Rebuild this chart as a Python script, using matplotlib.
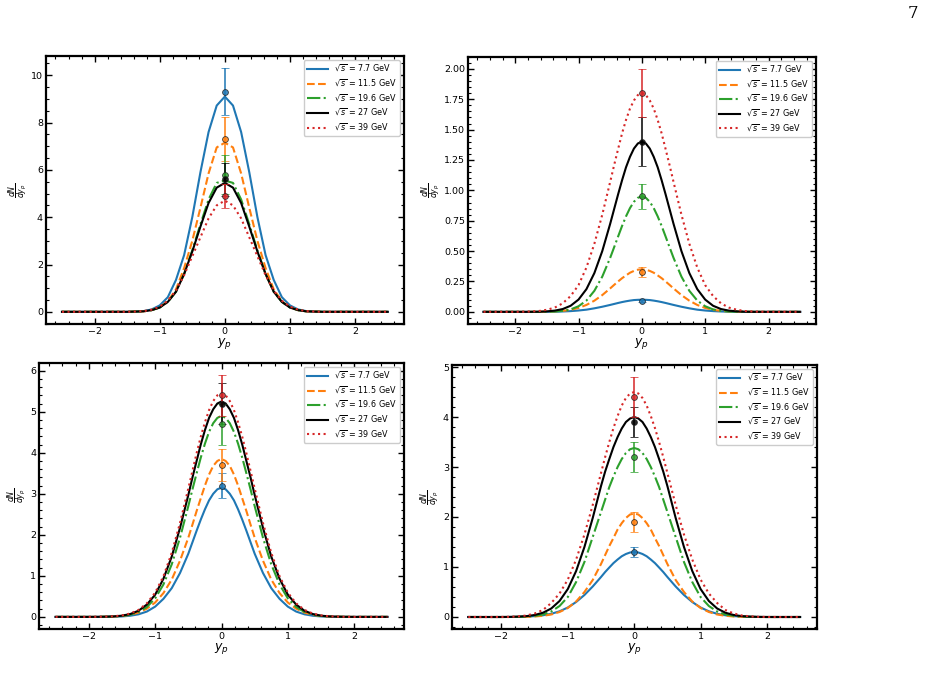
import numpy as np
import matplotlib
matplotlib.use("Agg")
import matplotlib.pyplot as plt
from matplotlib.ticker import AutoMinorLocator

# ---------------- data ----------------
# coarse rapidity grid (top-left panel)
y_grid = [-2.5, -2.375, -2.25, -2.125, -2.0, -1.875, -1.75, -1.625, -1.5, -1.375,
          -1.25, -1.125, -1.0, -0.875, -0.75, -0.625, -0.5, -0.375, -0.25, -0.125,
          0.0, 0.125, 0.25, 0.375, 0.5, 0.625, 0.75, 0.875, 1.0, 1.125,
          1.25, 1.375, 1.5, 1.625, 1.75, 1.875, 2.0, 2.125, 2.25, 2.375, 2.5]

# finer rapidity grid near mid-rapidity (other panels)
y_fine = [-2.5, -2.375, -2.25, -2.125, -2.0, -1.875, -1.75, -1.625, -1.5, -1.375,
          -1.25, -1.125, -1.0, -0.875, -0.75, -0.625,
          -0.5, -0.4375, -0.375, -0.3125, -0.25, -0.1875, -0.125, -0.0625,
          0.0,
          0.0625, 0.125, 0.1875, 0.25, 0.3125, 0.375, 0.4375, 0.5,
          0.625, 0.75, 0.875, 1.0, 1.125, 1.25, 1.375, 1.5, 1.625, 1.75,
          1.875, 2.0, 2.125, 2.25, 2.375, 2.5]

energies = ["7.7", "11.5", "19.6", "27", "39"]

# panel 1 (top left)
p1_77 = [0,0,0,0,0,0,0,0,0, 0.01,0.03,0.1,0.27,0.62,1.35,2.4,4.0,5.9,7.6,8.72, 9.1, 8.72,7.6,5.9,4.0,2.4,1.35,0.62,0.27,0.1,0.03,0.01, 0,0,0,0,0,0,0,0,0]
p1_115 = [0,0,0,0,0,0,0,0,0, 0.01,0.02,0.07,0.19,0.45,0.95,1.85,3.0,4.4,5.85,6.95, 7.15, 6.95,5.85,4.4,3.0,1.85,0.95,0.45,0.19,0.07,0.02,0.01, 0,0,0,0,0,0,0,0,0]
p1_196 = [0,0,0,0,0,0,0,0,0, 0.01,0.02,0.07,0.18,0.42,0.85,1.6,2.6,3.7,4.75,5.45, 5.55, 5.45,4.75,3.7,2.6,1.6,0.85,0.42,0.18,0.07,0.02,0.01, 0,0,0,0,0,0,0,0,0]
p1_27 = [0,0,0,0,0,0,0,0,0, 0.01,0.02,0.07,0.18,0.42,0.85,1.6,2.55,3.6,4.6,5.25, 5.45, 5.25,4.6,3.6,2.55,1.6,0.85,0.42,0.18,0.07,0.02,0.01, 0,0,0,0,0,0,0,0,0]
p1_39 = [0,0,0,0,0,0,0,0,0, 0.01,0.03,0.09,0.22,0.47,0.9,1.55,2.35,3.15,3.95,4.5, 4.7, 4.5,3.95,3.15,2.35,1.55,0.9,0.47,0.22,0.09,0.03,0.01, 0,0,0,0,0,0,0,0,0]
p1_pts = [9.3, 7.3, 5.8, 5.6, 4.9]
p1_err = [1.0, 0.93, 0.82, 0.7, 0.52]

# panel 2 (top right)
p2_77 = [0,0,0,0,0,0,0,0,0, 0.001,0.003,0.006,0.011,0.018,0.029,0.042,
         0.057,0.065,0.073,0.0805,0.087,0.0925,0.097,0.099, 0.10, 0.099,0.097,0.0925,0.087,0.0805,0.073,0.065,0.057,
         0.042,0.029,0.018,0.011,0.006,0.003,0.001, 0,0,0,0,0,0,0,0,0]
p2_115 = [0,0,0,0,0,0,0, 0.001,0.002,0.004,0.008,0.017,0.032,0.057,0.092,0.138,
          0.193,0.222,0.25,0.277,0.30,0.322,0.337,0.347, 0.35, 0.347,0.337,0.322,0.30,0.277,0.25,0.222,0.193,
          0.138,0.092,0.057,0.032,0.017,0.008,0.004,0.002,0.001, 0,0,0,0,0,0,0]
p2_196 = [0,0,0,0,0,0,0,0, 0.001,0.003,0.008,0.02,0.046,0.093,0.173,0.29,
          0.445,0.532,0.62,0.707,0.786,0.854,0.906,0.939, 0.95, 0.939,0.906,0.854,0.786,0.707,0.62,0.532,0.445,
          0.29,0.173,0.093,0.046,0.02,0.008,0.003,0.001, 0,0,0,0,0,0,0,0]
p2_27 = [0,0,0,0,0,0,0, 0.001,0.004,0.01,0.023,0.05,0.101,0.187,0.319,0.50,
         0.725,0.846,0.967,1.083,1.19,1.276,1.344,1.386, 1.40, 1.386,1.344,1.276,1.19,1.083,0.967,0.846,0.725,
         0.50,0.319,0.187,0.101,0.05,0.023,0.01,0.004,0.001, 0,0,0,0,0,0,0]
p2_39 = [0,0,0,0,0, 0.001,0.003,0.007,0.017,0.035,0.07,0.13,0.22,0.365,0.56,0.80,
         1.07,1.208,1.34,1.469,1.58,1.673,1.74,1.785, 1.80, 1.785,1.74,1.673,1.58,1.469,1.34,1.208,1.07,
         0.80,0.56,0.365,0.22,0.13,0.07,0.035,0.017,0.007,0.003,0.001, 0,0,0,0,0]
p2_pts = [0.09, 0.33, 0.95, 1.40, 1.80]
p2_err = [0.006, 0.04, 0.1, 0.2, 0.2]

# panel 3 (bottom left)
p3_77 = [0,0,0,0,0,0, 0.0015,0.004,0.011,0.028,0.063,0.13,0.25,0.44,0.70,1.07,
         1.54,1.82,2.10,2.37,2.62,2.84,3.0,3.11, 3.15, 3.11,3.0,2.84,2.62,2.37,2.10,1.82,1.54,
         1.07,0.70,0.44,0.25,0.13,0.063,0.028,0.011,0.004,0.0015, 0,0,0,0,0,0]
p3_115 = [0,0,0,0,0, 0.001,0.003,0.009,0.022,0.05,0.105,0.2,0.35,0.58,0.91,1.37,
          1.93,2.25,2.58,2.89,3.2,3.47,3.68,3.80, 3.85, 3.80,3.68,3.47,3.2,2.89,2.58,2.25,1.93,
          1.37,0.91,0.58,0.35,0.2,0.105,0.05,0.022,0.009,0.003,0.001, 0,0,0,0,0]
p3_196 = [0,0,0,0,0, 0.001,0.003,0.009,0.023,0.054,0.12,0.24,0.45,0.79,1.28,1.93,
          2.70,3.11,3.50,3.88,4.22,4.51,4.72,4.85, 4.9, 4.85,4.72,4.51,4.22,3.88,3.50,3.11,2.70,
          1.93,1.28,0.79,0.45,0.24,0.12,0.054,0.023,0.009,0.003,0.001, 0,0,0,0,0]
p3_27 = [0,0,0,0,0, 0.002,0.005,0.012,0.03,0.07,0.15,0.30,0.54,0.93,1.47,2.17,
         2.97,3.40,3.8,4.20,4.55,4.85,5.06,5.20, 5.25, 5.20,5.06,4.85,4.55,4.20,3.8,3.40,2.97,
         2.17,1.47,0.93,0.54,0.30,0.15,0.07,0.03,0.012,0.005,0.002, 0,0,0,0,0]
p3_39 = [0,0,0,0,0, 0.002,0.006,0.015,0.037,0.082,0.17,0.33,0.59,0.99,1.56,2.29,
         3.13,3.56,3.99,4.39,4.74,5.04,5.26,5.40, 5.45, 5.40,5.26,5.04,4.74,4.39,3.99,3.56,3.13,
         2.29,1.56,0.99,0.59,0.33,0.17,0.082,0.037,0.015,0.006,0.002, 0,0,0,0,0]
p3_pts = [3.2, 3.7, 4.7, 5.2, 5.4]
p3_err = [0.3, 0.4, 0.5, 0.5, 0.5]

# panel 4 (bottom right)
p4_77 = [0,0,0,0,0, 0.001,0.003,0.008,0.017,0.034,0.064,0.114,0.19,0.30,0.44,0.61,
         0.80,0.90,0.99,1.078,1.15,1.215,1.26,1.29, 1.3, 1.29,1.26,1.215,1.15,1.078,0.99,0.90,0.80,
         0.61,0.44,0.30,0.19,0.114,0.064,0.034,0.017,0.008,0.003,0.001, 0,0,0,0,0]
p4_115 = [0,0,0,0,0,0, 0.001,0.004,0.01,0.024,0.05,0.1,0.18,0.31,0.5,0.74,
          1.06,1.24,1.42,1.58,1.75,1.877,1.98,2.05, 2.07, 2.05,1.98,1.877,1.75,1.58,1.42,1.24,1.06,
          0.74,0.5,0.31,0.18,0.1,0.05,0.024,0.01,0.004,0.001, 0,0,0,0,0,0]
p4_196 = [0,0,0,0,0,0, 0.003,0.009,0.022,0.05,0.11,0.22,0.4,0.7,1.1,1.6,
          2.1,2.35,2.6,2.81,3.0,3.16,3.28,3.355, 3.38, 3.355,3.28,3.16,3.0,2.81,2.6,2.35,2.1,
          1.6,1.1,0.7,0.4,0.22,0.11,0.05,0.022,0.009,0.003, 0,0,0,0,0,0]
p4_27 = [0,0,0,0,0, 0.002,0.007,0.017,0.04,0.085,0.17,0.32,0.56,0.92,1.40,1.98,
         2.62,2.91,3.16,3.40,3.60,3.77,3.90,3.97, 4.0, 3.97,3.90,3.77,3.60,3.40,3.16,2.91,2.62,
         1.98,1.40,0.92,0.56,0.32,0.17,0.085,0.04,0.017,0.007,0.002, 0,0,0,0,0]
p4_39 = [0,0,0,0, 0.001,0.004,0.012,0.03,0.07,0.14,0.28,0.47,0.75,1.15,1.65,2.24,
         2.88,3.20,3.50,3.78,4.02,4.23,4.38,4.47, 4.5, 4.47,4.38,4.23,4.02,3.78,3.50,3.20,2.88,
         2.24,1.65,1.15,0.75,0.47,0.28,0.14,0.07,0.03,0.012,0.004,0.001, 0,0,0,0]
p4_pts = [1.3, 1.9, 3.2, 3.9, 4.4]
p4_err = [0.1, 0.2, 0.3, 0.3, 0.4]

panels = [
    (y_grid, [p1_77, p1_115, p1_196, p1_27, p1_39], p1_pts, p1_err),
    (y_fine, [p2_77, p2_115, p2_196, p2_27, p2_39], p2_pts, p2_err),
    (y_fine, [p3_77, p3_115, p3_196, p3_27, p3_39], p3_pts, p3_err),
    (y_fine, [p4_77, p4_115, p4_196, p4_27, p4_39], p4_pts, p4_err),
]

# ---------------- style ----------------
colors = ["#1f77b4", "#ff7f0e", "#2ca02c", "black", "#d62728"]
styles = ["-", "--", "-.", "-", ":"]

W, H = 925, 683
fig = plt.figure(figsize=(W / 100, H / 100), dpi=100)

rects_px = [
    (45.7, 56.0, 404.0, 324.0),
    (467.7, 56.7, 816.0, 324.0),
    (39.0, 362.7, 404.0, 629.0),
    (451.7, 365.0, 816.7, 629.0),
]

for (xs, series, pts, errs), (l, t, r, b) in zip(panels, rects_px):
    ax = fig.add_axes([l / W, 1 - b / H, (r - l) / W, (b - t) / H])
    for vals, c, ls, e in zip(series, colors, styles, energies):
        ax.plot(xs, vals, color=c, ls=ls, lw=1.5,
                label=r"$\sqrt{s}\,=\," + e + r"$ GeV")
    for p, er, c in zip(pts, errs, colors):
        ax.errorbar([0.0], [p], yerr=[er], fmt="o", color=c, ecolor=c,
                    elinewidth=1.3, capsize=3, capthick=1.2, ms=4.2,
                    mec="#222222", mew=0.6, alpha=0.85, zorder=3)
    ax.xaxis.set_minor_locator(AutoMinorLocator())
    ax.yaxis.set_minor_locator(AutoMinorLocator())
    ax.tick_params(which="both", direction="in", top=True, right=True,
                   labelsize=6.8, pad=2)
    ax.tick_params(which="major", length=4.5, width=1.0)
    ax.tick_params(which="minor", length=2.5, width=0.8)
    for sp in ax.spines.values():
        sp.set_linewidth(1.6)
    ax.set_xlabel(r"$y_p$", fontsize=9, labelpad=0)
    ax.set_ylabel(r"$\frac{dN}{dy_p}$", fontsize=8, labelpad=0.5)
    ax.legend(loc="upper right", fontsize=5.8, handlelength=2.6,
              labelspacing=0.45, borderpad=0.4, framealpha=1.0,
              edgecolor="#cccccc")

fig.text(913 / W, 1 - 14 / H, "7", family="DejaVu Serif", fontsize=12,
         ha="center", va="center")

fig.savefig("out.png", dpi=100)
